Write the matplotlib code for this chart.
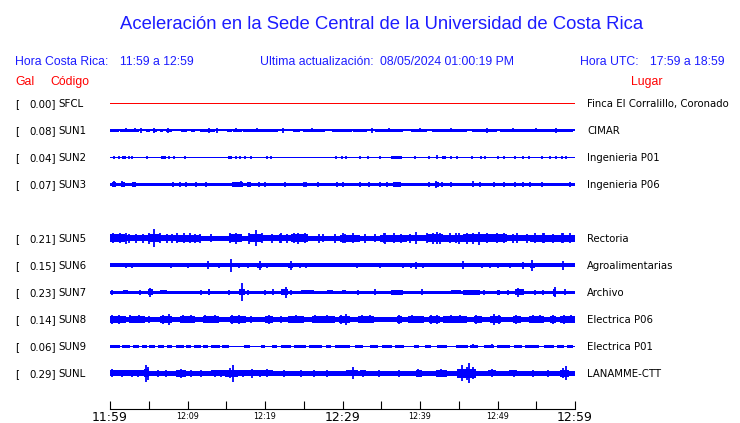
import matplotlib
matplotlib.use('Agg')
import matplotlib.pyplot as plt
from matplotlib.ticker import FixedLocator, FixedFormatter

W, H = 740, 423

# stations, top to bottom (SUN4 has no data, its row stays empty)
codes = ['SFCL', 'SUN1', 'SUN2', 'SUN3', 'SUN4', 'SUN5', 'SUN6', 'SUN7', 'SUN8', 'SUN9', 'SUNL']
gal = [0.00, 0.08, 0.04, 0.07, None, 0.21, 0.15, 0.23, 0.14, 0.06, 0.29]
places = ['Finca El Corralillo, Coronado', 'CIMAR', 'Ingenieria P01', 'Ingenieria P06', '',
          'Rectoria', 'Agroalimentarias', 'Archivo', 'Electrica P06', 'Electrica P01', 'LANAMME-CTT']

# background noise half amplitude of each trace (counts)
base = [0.5, 0.8, 0.5, 1.7, None, 2.5, 1.8, 1.6, 2.8, 0.5, 2.2]

# noisy stretches: (start min, end min, half amplitude), minutes after 11:59
sun1_bursts = [(0, 1.1, 1.5), (1.3, 3.7, 1.5), (4.7, 5.2, 1.5), (5.5, 6.0, 1.5), (6.4, 6.8, 1.5),
               (7.2, 8.0, 1.5), (9.2, 9.9, 1.5), (10.5, 11.0, 1.5), (11.6, 13.5, 1.5), (15.1, 15.7, 1.5),
               (15.9, 17.0, 1.5), (17.2, 21.7, 1.5), (23.6, 24.5, 1.5), (24.9, 27.7, 1.5), (28.6, 31.2, 1.5),
               (31.4, 33.1, 1.5), (34.2, 37.8, 1.5), (38.9, 40.9, 1.5), (41.5, 46.0, 1.5), (46.7, 49.9, 1.5),
               (50.3, 59.7, 1.5)]
sun2_bursts = [(1.6, 2.0, 1.3), (6.6, 7.2, 1.3), (15.2, 15.8, 1.3), (36.2, 37.7, 1.3), (42.8, 43.3, 1.3)]
sun3_bursts = [(0.3, 0.8, 2.3), (1.4, 1.9, 2.3), (2.8, 3.3, 2.3), (15.8, 17.1, 2.3), (17.7, 18.2, 2.3),
               (36.5, 37.5, 2.3), (41.9, 42.4, 2.5)]
sun5_bursts = [(0, 1.9, 3.8), (1.9, 4.9, 3.0), (4.9, 6.4, 4.2), (6.4, 11.8, 3.0), (8.5, 11.5, 3.5),
               (15.3, 17.0, 3.8), (17.9, 19.6, 4.2), (19.6, 23.4, 3.0), (23.4, 25.6, 3.8),
               (29.7, 32.3, 3.4), (34.8, 38.3, 3.4), (38.3, 40.9, 3.0), (40.9, 43.0, 4.2), (43.0, 45.6, 3.4),
               (45.6, 47.7, 4.2), (47.7, 51.2, 3.8), (51.2, 54.2, 3.0), (54.2, 60, 3.4)]
sun6_bursts = [(19.0, 19.6, 2.5), (23.0, 23.6, 2.5), (54.2, 54.8, 2.5)]
sun7_bursts = [(1.7, 2.3, 2.2), (4.9, 5.6, 3.0), (6.5, 7.3, 2.2), (12.6, 12.9, 3.0), (16.6, 17.4, 3.0),
               (22.1, 23.0, 3.0), (24.6, 26.3, 2.2), (28.0, 28.8, 2.2), (29.9, 30.4, 2.2), (36.3, 37.8, 2.5),
               (44.0, 45.3, 2.2), (45.6, 47.7, 2.5), (49.9, 50.3, 2.5), (52.3, 53.4, 3.0), (57.2, 57.6, 3.5)]
sun8_bursts = [(0, 2, 3.8), (2.5, 4.5, 3.3), (6.5, 8.0, 3.6), (9, 11, 3.3), (12, 14, 3.3), (15.5, 17.5, 3.6),
               (20, 21, 3.5), (23, 25, 3.3), (26, 29, 3.3), (29.5, 31, 3.6), (32, 34, 3.3), (37, 37.7, 3.8),
               (38.5, 40.5, 3.3), (41.1, 42.6, 3.8), (43, 46, 3.3), (47, 48, 3.5), (49, 50.5, 3.8),
               (52, 53, 3.5), (54, 56, 3.3), (56.8, 57.5, 3.8), (58, 60, 3.5)]
sun9_bursts = [(0, 1.3, 1.3), (1.6, 2.6, 1.3), (3.0, 3.8, 1.3), (4.1, 4.8, 1.3), (5.0, 5.8, 1.3),
               (6.2, 7.0, 1.3), (7.3, 8.0, 1.3), (8.5, 9.5, 1.3), (9.8, 10.5, 1.3), (10.8, 11.7, 1.3),
               (12.0, 12.6, 1.3), (13.0, 14.2, 1.3), (14.5, 15.3, 1.3), (17.3, 18.0, 1.3), (19.5, 20.0, 1.3),
               (20.9, 21.6, 1.3), (22.0, 23.3, 1.3), (23.8, 25.3, 1.3), (25.7, 27.3, 1.3), (27.9, 28.5, 1.3),
               (29.0, 31.0, 1.3), (31.6, 32.7, 1.3), (33.5, 34.6, 1.3), (35.1, 36.4, 1.3), (36.8, 37.9, 1.3),
               (39.2, 39.9, 1.3), (40.6, 41.4, 1.3), (42.2, 43.5, 1.3), (44.6, 46.2, 1.3), (46.4, 47.5, 1.3),
               (48.2, 49.5, 1.3), (49.9, 51.6, 1.3), (52.1, 53.2, 1.3), (53.6, 55.4, 1.3), (56.0, 57.3, 1.3),
               (57.7, 58.6, 1.3), (59.0, 59.8, 1.3)]
sunl_bursts = [(0, 4.4, 2.9), (4.4, 5.0, 4.0), (5.0, 7.5, 2.7), (8.5, 9.8, 3.5), (9.8, 12.5, 2.7),
               (13.0, 14.8, 2.9), (14.8, 16.5, 3.5), (16.5, 21.0, 2.9), (30.5, 32.0, 3.1),
               (32.3, 33.0, 3.1), (36.5, 38, 2.7), (39.5, 40.2, 3.3), (42, 43.5, 3.5), (44.8, 47.2, 4.5),
               (48.8, 49.8, 3.1), (51.5, 52.5, 2.9), (54, 55, 2.7), (58, 59.2, 3.5)]

# single peaks: (minute, half amplitude)
sun1_spikes = [(2.0, 2.0), (3.2, 2.0), (4.0, 2.5), (5.7, 2.5), (7.5, 2.5), (12.8, 2.5), (13.8, 2.5),
               (16.3, 2.0), (19.0, 2.0), (22.3, 2.5), (26.0, 2.0), (33.8, 2.5), (36.0, 2.0), (40.0, 2.0),
               (44.0, 2.0), (48.7, 2.5), (52.0, 2.0), (55.0, 2.0), (57.6, 2.5)]
sun2_spikes = [(0.5, 1.5), (1.2, 1.5), (2.4, 1.5), (2.9, 1.5), (4.8, 1.5), (7.6, 1.5), (8.2, 1.5),
               (9.7, 1.5), (16.2, 1.5), (16.8, 1.5), (17.4, 1.5), (18.2, 1.5), (20.2, 1.5), (20.8, 1.5),
               (29.2, 1.5), (29.9, 1.5), (30.5, 1.5), (32.3, 1.5), (33.3, 1.5), (34.8, 1.5), (39.3, 1.5),
               (41.1, 1.5), (42.2, 2.0), (44.0, 1.5), (44.8, 1.5), (46.7, 1.5), (47.9, 1.5), (48.4, 1.5),
               (50.0, 1.5), (50.8, 1.5), (52.3, 1.5), (53.3, 1.5), (54.0, 1.5), (55.8, 1.5), (56.8, 1.5),
               (57.5, 1.5), (58.3, 1.5), (58.8, 1.5)]
sun3_spikes = [(0.5, 3.0), (1.6, 2.8), (8.1, 2.7), (9.0, 2.7), (9.8, 2.7), (11.1, 2.7), (12.4, 2.7),
               (16.9, 3.2), (19.2, 2.7), (20.0, 2.7), (22.6, 2.7), (25.0, 2.7), (25.3, 2.7), (26.9, 2.7),
               (29.3, 2.7), (30.0, 2.7), (32.3, 2.7), (33.4, 2.7), (34.9, 2.7), (35.8, 2.7), (41.1, 2.7),
               (42.1, 3.3), (42.8, 2.7), (44.0, 2.7), (46.8, 3.2), (47.8, 2.7), (49.5, 2.7), (50.8, 2.7),
               (52.3, 2.7), (53.3, 2.7), (54.2, 2.7), (55.8, 2.7), (59.3, 2.7)]
sun5_spikes = [(0.4, 5.0), (1.3, 5.0), (2.0, 5.5), (2.4, 4.5), (3.4, 4.5), (4.3, 4.5), (5.0, 5.5),
               (5.7, 9.0), (6.4, 5.0), (7.3, 4.5), (8.0, 4.5), (8.6, 5.0), (9.5, 5.0), (10.3, 5.0),
               (11.0, 4.5), (11.6, 4.5), (13.0, 4.0), (15.5, 5.0), (16.3, 5.5), (17.9, 5.5), (18.8, 8.0),
               (19.6, 5.0), (20.9, 4.5), (21.9, 4.5), (22.0, 5.0), (22.8, 4.5), (23.7, 5.0), (24.3, 5.5),
               (25.2, 5.0), (27.0, 4.5), (27.5, 4.0), (29.0, 4.5), (30.1, 5.0), (30.3, 4.5), (31.4, 5.0),
               (32.9, 4.5), (34.2, 4.0), (35.3, 5.0), (35.5, 5.5), (36.6, 5.0), (37.6, 4.5), (38.7, 4.5),
               (39.5, 6.0), (40.9, 5.0), (41.7, 5.5), (42.2, 6.0), (42.6, 5.5), (43.9, 5.0), (44.7, 5.0),
               (45.0, 5.5), (46.0, 5.5), (46.9, 5.5), (47.6, 6.5), (48.6, 5.0), (49.9, 5.0), (50.8, 5.0),
               (52.0, 4.5), (52.5, 5.0), (53.8, 4.5), (54.8, 5.0), (55.9, 5.0), (56.0, 5.0), (57.2, 4.5),
               (58.3, 5.0), (58.5, 5.0), (59.4, 5.0)]
sun6_spikes = [(2.1, 2.5), (2.8, 2.5), (7.9, 2.5), (10.1, 2.5), (12.7, 4.0), (14.0, 2.5), (15.6, 6.5),
               (16.6, 2.5), (17.8, 2.5), (19.3, 4.5), (20.2, 2.5), (23.3, 4.5), (24.5, 2.2), (25.3, 2.2),
               (31.9, 2.2), (34.9, 2.2), (37.8, 2.2), (38.9, 2.2), (39.5, 3.5), (40.4, 2.5), (45.5, 4.0),
               (48.0, 2.2), (49.0, 2.2), (50.0, 2.5), (51.6, 2.2), (53.3, 3.5), (54.5, 5.5), (58.5, 4.5)]
sun7_spikes = [(0.3, 2.5), (3.9, 2.2), (5.2, 4.5), (11.8, 2.2), (15.3, 2.2), (17.0, 9.0), (17.8, 2.2),
               (20.0, 2.2), (21.0, 3.0), (22.7, 5.5), (23.3, 2.5), (32.0, 2.2), (34.2, 3.0), (40.3, 3.0),
               (48.2, 2.2), (51.4, 2.5), (52.7, 4.5), (54.8, 2.2), (55.9, 2.5), (57.4, 5.0), (58.7, 3.0)]
sun8_spikes = [(0.3, 4.5), (1.2, 4.2), (2.6, 4.0), (3.8, 4.0), (5.0, 3.8), (6.8, 4.2), (7.6, 5.2),
               (9.4, 4.0), (10.5, 4.0), (12.3, 4.0), (13.6, 4.0), (15.8, 4.2), (16.6, 4.8), (18.2, 3.8),
               (20.5, 4.2), (22.0, 3.8), (24.0, 4.0), (26.5, 4.0), (28.0, 4.0), (29.8, 4.2), (30.5, 5.2),
               (32.5, 4.0), (33.6, 4.0), (37.3, 4.5), (39.0, 4.0), (41.4, 4.5), (42.2, 4.2), (44.0, 4.0),
               (45.2, 4.0), (47.2, 4.3), (49.6, 5.2), (50.2, 4.2), (52.4, 4.2), (54.6, 4.0), (55.5, 4.0),
               (57.1, 4.8), (58.6, 4.2), (59.5, 4.0)]
sun9_spikes = [(0.6, 1.8), (2.0, 1.8), (24.0, 1.8), (46.8, 2.0), (49.3, 2.0)]
sunl_spikes = [(0.3, 4.0), (1.5, 3.5), (2.8, 3.5), (3.6, 3.5), (4.6, 8.3), (4.9, 6.5), (6.2, 3.5),
               (7.2, 3.5), (9.1, 4.5), (10.5, 3.5), (11.8, 3.3), (13.5, 3.5), (14.3, 3.5), (15.5, 5.0),
               (15.9, 8.5), (17.2, 3.5), (18.3, 4.5), (19.3, 3.5), (20.2, 4.0), (22.5, 3.3), (24.6, 3.3),
               (26.3, 3.5), (28.0, 3.3), (31.4, 6.0), (32.6, 3.8), (34.7, 3.5), (37.3, 3.5), (39.8, 4.0),
               (42.7, 4.0), (43.2, 3.8), (45.4, 8.0), (46.0, 6.5), (46.3, 10.0), (46.8, 6.0), (49.3, 4.0),
               (52.1, 3.5), (54.6, 3.3), (56.5, 3.3), (58.5, 5.0), (58.8, 7.0)]

bursts = {'SUN1': sun1_bursts, 'SUN2': sun2_bursts, 'SUN3': sun3_bursts, 'SUN5': sun5_bursts,
          'SUN6': sun6_bursts, 'SUN7': sun7_bursts, 'SUN8': sun8_bursts, 'SUN9': sun9_bursts,
          'SUNL': sunl_bursts}
spikes = {'SUN1': sun1_spikes, 'SUN2': sun2_spikes, 'SUN3': sun3_spikes, 'SUN5': sun5_spikes,
          'SUN6': sun6_spikes, 'SUN7': sun7_spikes, 'SUN8': sun8_spikes, 'SUN9': sun9_spikes,
          'SUNL': sunl_spikes}

duration = 60
major_ticks = [0, 30, 60]
major_labels = ['11:59', '12:29', '12:59']
minor_ticks = [5, 10, 15, 20, 25, 35, 40, 45, 50, 55]
minor_labels = ['', '12:09', '', '12:19', '', '', '12:39', '', '12:49', '']

BLUE = '#0000ff'
TBLUE = '#1c1cff'
RED = '#ff0000'

fig = plt.figure(figsize=(W / 100, H / 100), dpi=100)


def fx(px):
    return px / W


def fy(py):
    return 1 - py / H


# trace area: rows 27 px apart, first row centre at y=103.3, time axis at y=409
row_h = 27
top_px, first_px, axis_px = 89.8, 103.3, 409
ax = fig.add_axes([fx(110), fy(axis_px), fx(575) - fx(110), fy(top_px) - fy(axis_px)])
ax.set_xlim(0, duration)
ax.set_ylim(axis_px - first_px, top_px - first_px)

for i, code in enumerate(codes):
    if gal[i] is None:
        continue
    off = i * row_h
    col = RED if code == 'SFCL' else BLUE
    b = base[i]
    ax.fill_between([0, duration], off - b, off + b, color=col, lw=0)
    for t0, t1, a in bursts.get(code, []):
        ax.fill_between([t0, t1], off - a, off + a, color=col, lw=0)
    for t, a in spikes.get(code, []):
        ax.vlines(t, off - a, off + a, color=col, lw=1.3)

    ypx = first_px + i * row_h + 3.3
    fig.text(fx(15), fy(ypx), '[', fontsize=7.4, family='DejaVu Sans', va='baseline')
    fig.text(fx(56), fy(ypx), f'{gal[i]:.2f}]', fontsize=7.4, family='DejaVu Sans',
             va='baseline', ha='right')
    fig.text(fx(58), fy(ypx), code, fontsize=7.4, family='DejaVu Sans', va='baseline')
    fig.text(fx(587), fy(ypx), places[i], fontsize=7.3, family='DejaVu Sans', va='baseline')

for s in ['top', 'left', 'right']:
    ax.spines[s].set_visible(False)
ax.spines['bottom'].set_linewidth(0.8)
ax.set_yticks([])
ax.xaxis.set_major_locator(FixedLocator(major_ticks))
ax.xaxis.set_major_formatter(FixedFormatter(major_labels))
ax.xaxis.set_minor_locator(FixedLocator(minor_ticks))
ax.xaxis.set_minor_formatter(FixedFormatter(minor_labels))
ax.tick_params(axis='x', which='both', direction='in', length=5.5, width=0.8)
ax.tick_params(axis='x', which='major', labelsize=9, pad=1.5)
ax.tick_params(axis='x', which='minor', labelsize=5.8, pad=2)
for lab in ax.get_xticklabels(which='both'):
    lab.set_family('DejaVu Sans')

# header
fig.text(fx(381.5), fy(29.3), 'Aceleración en la Sede Central de la Universidad de Costa Rica',
         fontsize=13.3, family='Liberation Sans', color=TBLUE, ha='center', va='baseline')
hdr = dict(fontsize=8.8, family='Liberation Sans', color=TBLUE, va='baseline')
fig.text(fx(15), fy(65.3), 'Hora Costa Rica:', **hdr)
fig.text(fx(120.5), fy(65.3), '11:59 a 12:59', **hdr)
fig.text(fx(260), fy(65.3), 'Ultima actualización:', **hdr)
fig.text(fx(380.5), fy(65.3), '08/05/2024 01:00:19 PM', **hdr)
fig.text(fx(580), fy(65.3), 'Hora UTC:', **hdr)
fig.text(fx(650.5), fy(65.3), '17:59 a 18:59', **hdr)
red = dict(fontsize=8.8, family='Liberation Sans', color=RED, va='baseline')
fig.text(fx(15), fy(85), 'Gal', **red)
fig.text(fx(50), fy(85), 'Código', **red)
fig.text(fx(630.5), fy(85), 'Lugar', **red)

fig.savefig('out.png', dpi=100)
